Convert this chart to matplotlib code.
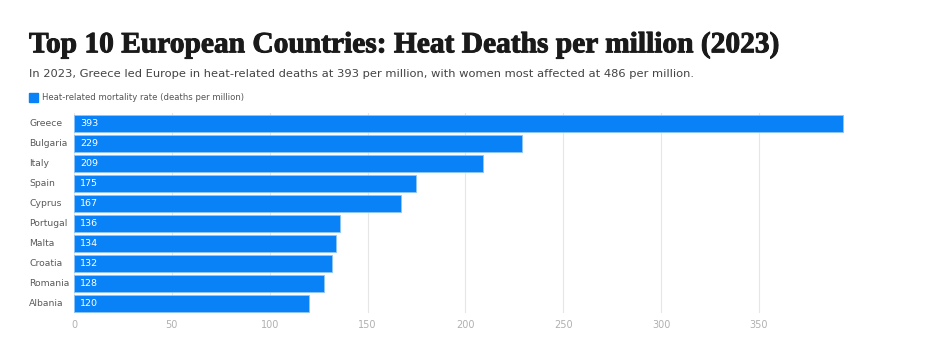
import matplotlib
matplotlib.use("Agg")
import matplotlib.pyplot as plt
import matplotlib.patheffects as pe
from matplotlib.patches import Rectangle
from matplotlib.transforms import blended_transform_factory

countries = ["Greece", "Bulgaria", "Italy", "Spain", "Cyprus",
             "Portugal", "Malta", "Croatia", "Romania", "Albania"]
rates = [393, 229, 209, 175, 167, 136, 134, 132, 128, 120]
xticks = [0, 50, 100, 150, 200, 250, 300, 350]

title = "Top 10 European Countries: Heat Deaths per million (2023)"
subtitle = ("In 2023, Greece led Europe in heat-related deaths at 393 per million, "
            "with women most affected at 486 per million.")
legend_label = "Heat-related mortality rate (deaths per million)"

BLUE = "#0A82F7"
W, H = 950, 348

plt.rcParams["font.family"] = ["DejaVu Sans"]
fig = plt.figure(figsize=(W / 100, H / 100), dpi=100)
fig.patch.set_facecolor("white")

# axes in pixel coords: 0 at x=74, ~1.957 px per unit; rows from y=113 to 313
x0, x1 = 74, 74 + 410 * 1.957
y_top, y_bot = 113, 313
ax = fig.add_axes([x0 / W, 1 - y_bot / H, (x1 - x0) / W, (y_bot - y_top) / H])

ypos = list(range(len(countries)))
ax.barh(ypos, rates, height=0.85, color=BLUE, edgecolor="#8cc6ff",
        linewidth=0.6, zorder=2)
for y, v in zip(ypos, rates):
    ax.text(3, y, str(v), color="white", fontsize=6.8, va="center", ha="left", zorder=3)

ax.set_ylim(len(countries) - 0.5, -0.5)
ax.set_xlim(0, 410)
ax.set_yticks([])
ax.set_xticks(xticks)
ax.tick_params(axis="x", length=0, labelsize=7, labelcolor="#b0b0b0", pad=5)
ax.grid(axis="x", color="#e6e6e6", linewidth=0.8, zorder=0)
ax.set_axisbelow(True)
for s in ax.spines.values():
    s.set_visible(False)

# country names, left aligned at x=29 px
trans = blended_transform_factory(fig.transFigure, ax.transData)
for y, c in zip(ypos, countries):
    ax.text(29 / W, y, c, transform=trans, fontsize=6.7, color="#5a5a5a",
            ha="left", va="center")

# title, subtitle and legend
fig.text(29 / W, 1 - 45 / H, title, fontsize=21.2, fontweight="bold",
         family="Liberation Serif", color="#1a1a1a", va="center", ha="left",
         path_effects=[pe.withStroke(linewidth=0.7, foreground="#1a1a1a")])
fig.text(29 / W, 1 - 74 / H, subtitle, fontsize=8.25, color="#444444",
         va="center", ha="left")
fig.patches.append(Rectangle((29 / W, 1 - 102 / H), 9 / W, 9 / H,
                             transform=fig.transFigure, color=BLUE, figure=fig))
fig.text(42 / W, 1 - 97.5 / H, legend_label, fontsize=6.1, color="#555555",
         va="center", ha="left")

fig.savefig("out.png", dpi=100)
